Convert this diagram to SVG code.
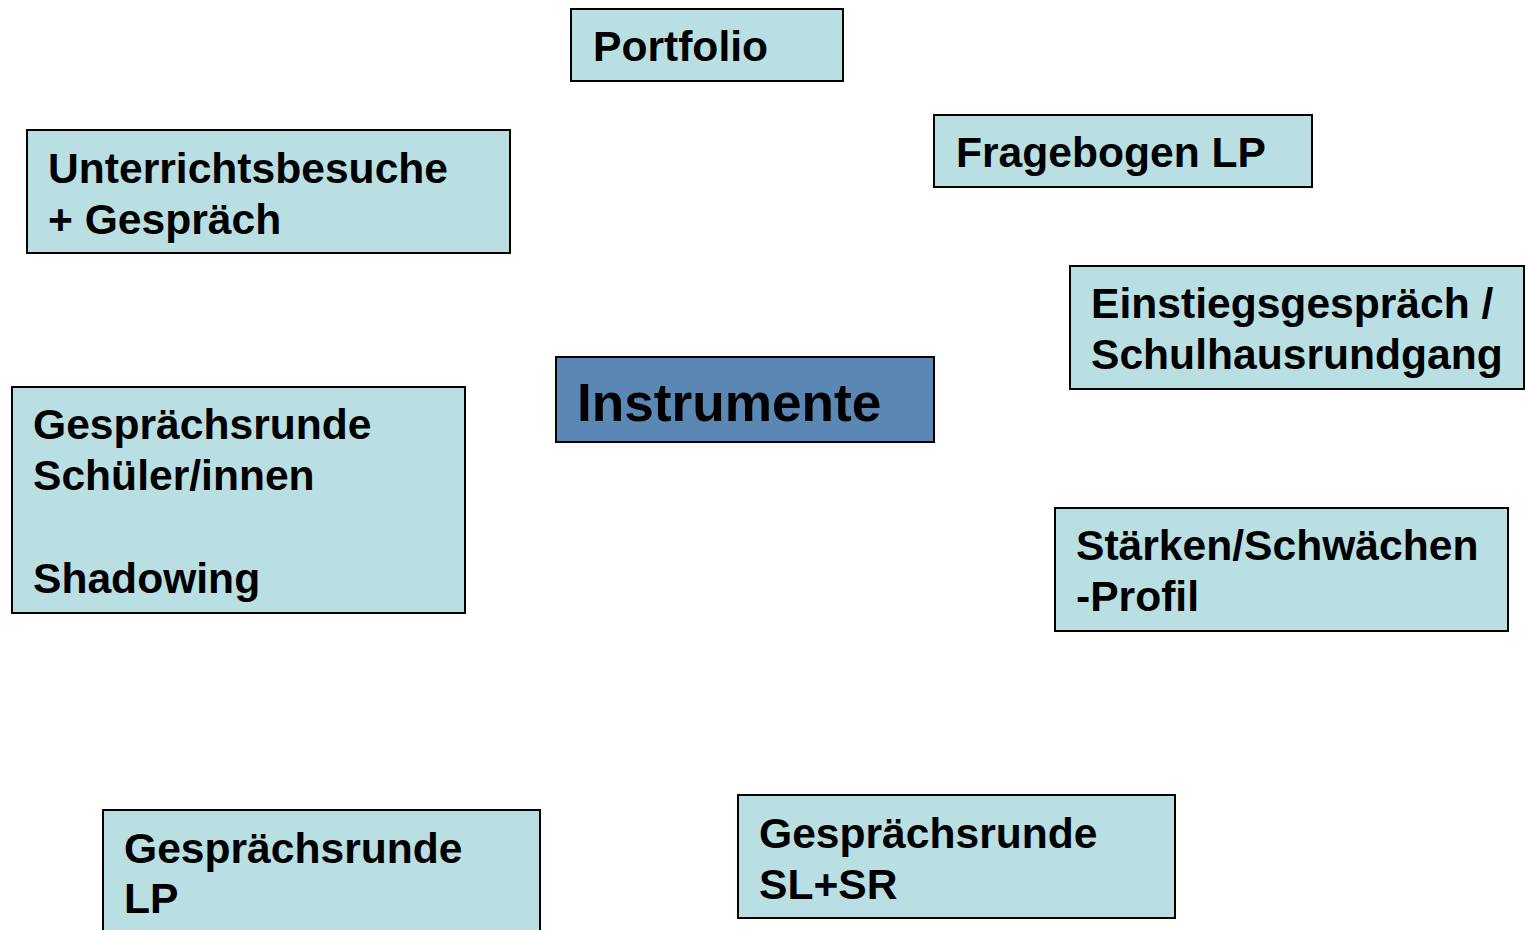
<svg xmlns="http://www.w3.org/2000/svg" width="1526" height="930" viewBox="0 0 1526 930">
<style>
.box{fill:#B9DFE3;stroke:#000;stroke-width:2}
.main{fill:#5B87B5;stroke:#000;stroke-width:2}
text{font-family:"Liberation Sans",Arial,sans-serif;font-weight:bold;font-size:42.6px;fill:#000}
.big{font-size:53.2px}
</style>
<rect width="1526" height="930" fill="#fff"/>
<g id="portfolio"><rect class="box" x="571" y="9" width="272" height="72"/><text x="593" y="61">Portfolio</text></g>
<g id="unterricht"><rect class="box" x="27" y="130" width="483" height="123"/><text x="48" y="183">Unterrichtsbesuche</text><text x="48" y="234">+ Gespräch</text></g>
<g id="fragebogen"><rect class="box" x="934" y="115" width="378" height="72"/><text x="956" y="167">Fragebogen LP</text></g>
<g id="einstieg"><rect class="box" x="1070" y="266" width="454" height="123"/><text x="1091" y="318">Einstiegsgespräch /</text><text x="1091" y="369">Schulhausrundgang</text></g>
<g id="instrumente"><rect class="main" x="556" y="357" width="378" height="85"/><text class="big" x="577" y="421">Instrumente</text></g>
<g id="schueler"><rect class="box" x="12" y="387" width="453" height="226"/><text x="33" y="439">Gesprächsrunde</text><text x="33" y="490">Schüler/innen</text><text x="33" y="593">Shadowing</text></g>
<g id="staerken"><rect class="box" x="1055" y="508" width="453" height="123"/><text x="1076" y="560">Stärken/Schwächen</text><text x="1076" y="611">-Profil</text></g>
<g id="lp"><rect class="box" x="103" y="810" width="437" height="130"/><text x="124" y="863">Gesprächsrunde</text><text x="124" y="913">LP</text></g>
<g id="slsr"><rect class="box" x="738" y="795" width="437" height="123"/><text x="759" y="848">Gesprächsrunde</text><text x="759" y="899">SL+SR</text></g>
<g id="connectors"/>
</svg>
